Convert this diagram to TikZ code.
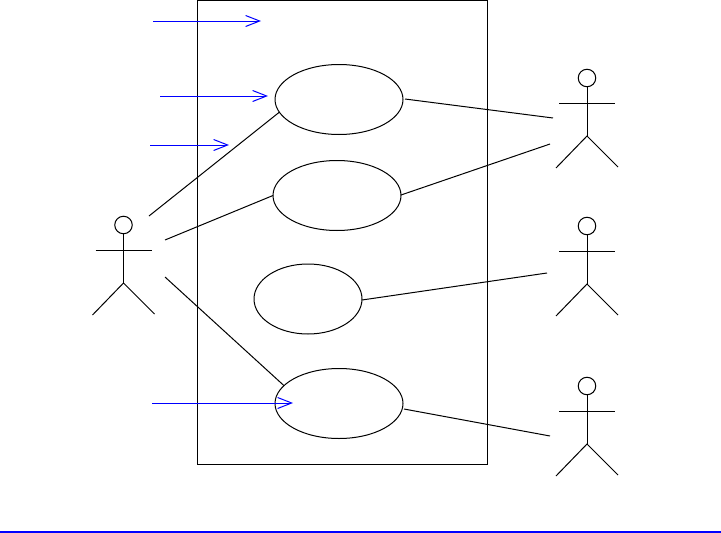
\documentclass[tikz,border=0pt]{standalone}
\usetikzlibrary{shapes.geometric,arrows.meta}
\tikzset{
  x=1pt,y=-1pt,
  line/.style={draw=black,line width=1pt},
  usecase/.style={ellipse,draw=black,line width=1pt,inner sep=0pt,outer sep=0pt,minimum width=128pt,minimum height=70pt},
  head/.style={circle,draw=black,line width=1pt,inner sep=0pt,outer sep=0pt,minimum size=17.5pt},
  flow/.style={draw={rgb,255:red,0;green,0;blue,255},line width=1pt,-{Straight Barb[length=14pt,width=11pt,line width=1pt]}},
}
\newcommand{\stickman}[5]{% name, head x, head y, half arm, leg spread
  \node[head] (#1) at (#2,#3) {};
  \coordinate (#1body) at (#2,#3+58);
  \draw[line] (#1.south) -- (#1body);
  \draw[line] (#2-#4,#3+25) -- (#2+#4,#3+25);
  \draw[line] (#2-#5,#3+90) -- (#1body) -- (#2+#5,#3+89);
}
\begin{document}
\begin{tikzpicture}
\useasboundingbox (0,0) rectangle (721,533);
\node[draw=black,line width=1pt,inner sep=0pt,outer sep=0pt,minimum width=289.5pt,minimum height=464pt] (sys) at (342.25,232) {};
\node[usecase] (u1) at (339,99.5) {};
\node[usecase] (u2) at (337,195.5) {};
\node[usecase,minimum width=108pt] (u3) at (308,299) {};
\node[usecase] (u4) at (339,403.5) {};
\stickman{a}{123.5}{225}{28}{31}
\stickman{b}{587}{78}{28}{31}
\stickman{c}{587}{226}{28}{31}
\stickman{d}{587}{386}{28}{31}
\coordinate (a1) at (149,216);
\coordinate (a2) at (165,240);
\coordinate (a3) at (165,277);
\coordinate (b1) at (553,118);
\coordinate (b2) at (550,144);
\coordinate (c1) at (547,273);
\coordinate (d1) at (550,436);
\coordinate (e1) at (405,99);
\coordinate (e2) at (401,195);
\coordinate (e3) at (362,300);
\coordinate (e4) at (404,409);
\draw[line] (a1) -- (u1.192);
\draw[line] (a2) -- (u2.west);
\draw[line] (a3) -- (u4.162);
\draw[line] (e1) -- (b1);
\draw[line] (e2) -- (b2);
\draw[line] (e3) -- (c1);
\draw[line] (e4) -- (d1);
\coordinate (f1s) at (153,21); \coordinate (f1e) at (261,21);
\coordinate (f2s) at (160,96); \coordinate (f2e) at (268,96);
\coordinate (f3s) at (150,145); \coordinate (f3e) at (229,145);
\coordinate (f4s) at (152,403); \coordinate (f4e) at (293,403);
\draw[flow] (f1s) -- (f1e);
\draw[flow] (f2s) -- (f2e);
\draw[flow] (f3s) -- (f3e);
\draw[flow] (f4s) -- (f4e);
\coordinate (r1) at (0,532); \coordinate (r2) at (721,532);
\draw[draw={rgb,255:red,0;green,0;blue,255},line width=2pt] (r1) -- (r2);
\end{tikzpicture}
\end{document}
